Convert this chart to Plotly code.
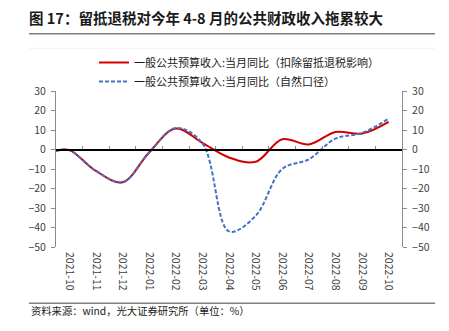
import plotly.graph_objects as go

# ---------------- data ----------------
months = ["2021-10", "2021-11", "2021-12", "2022-01", "2022-02", "2022-03", "2022-04",
          "2022-05", "2022-06", "2022-07", "2022-08", "2022-09", "2022-10"]
# value where each line begins at the left edge of the plot
start_red = -0.7
start_blue = -0.7
# monthly YoY (%)
red_vals = [-0.3, -11.0, -16.8, -1.5, 10.8, 3.4, -4.1, -6.3, 5.3, 2.6, 9.0, 8.2, 14.2]
blue_vals = [-0.3, -11.0, -16.8, -1.5, 11.0, 3.2, -42.0, -34.0, -10.0, -5.0, 5.6, 8.5, 15.8]
y_ticks = [30, 20, 10, 0, -10, -20, -30, -40, -50]

name_red = "一般公共预算收入:当月同比（扣除留抵退税影响）"
name_blue = "一般公共预算收入:当月同比（自然口径）"
title_text = "图 17：留抵退税对今年 4-8 月的公共财政收入拖累较大"
footer_text = "资料来源：wind，光大证券研究所（单位：%）"

# ---------------- layout geometry ----------------
W, H = 449, 331
L, R, T, B = 56, 402, 91, 247
x_range = [-0.5, len(months) - 0.5]
y_range = [min(y_ticks), max(y_ticks)]

def px_x(px):
    return (px - L) / (R - L)

def px_y(py):
    return (B - py) / (B - T)

FONT = "Noto Sans CJK SC"
pos = list(range(len(months)))
xs = [x_range[0]] + pos
red_y = [start_red] + red_vals
blue_y = [start_blue] + blue_vals

fig = go.Figure()
fig.add_trace(go.Scatter(x=xs, y=red_y, mode="lines", name=name_red,
                         line=dict(color="#D40000", width=2, shape="spline", smoothing=1.0),
                         hoverinfo="skip"))
fig.add_trace(go.Scatter(x=xs, y=blue_y, mode="lines", name=name_blue,
                         line=dict(color="#4472C4", width=2, dash="4px,2px",
                                   shape="spline", smoothing=1.0),
                         hoverinfo="skip"))
# invisible trace to carry the secondary axes (right y labels, zero line with ticks)
fig.add_trace(go.Scatter(x=xs, y=red_y, mode="lines", xaxis="x2", yaxis="y2",
                         opacity=0, showlegend=False, hoverinfo="skip",
                         line=dict(width=0)))

axis_font = dict(family=FONT, size=10.5, color="#404040")
yaxis_common = dict(range=y_range, tickmode="array", tickvals=y_ticks,
                    showgrid=False, zeroline=False, showline=True,
                    linecolor="#8C8C8C", linewidth=1, ticks="outside",
                    ticklen=4, tickcolor="#8C8C8C", tickfont=axis_font, ticklabelstandoff=3)

zero_frac = (0 - y_range[0]) / (y_range[1] - y_range[0])

fig.update_layout(
    width=W, height=H,
    margin=dict(l=L, r=W - R, t=T, b=H - B, pad=0),
    paper_bgcolor="white", plot_bgcolor="white",
    font=dict(family=FONT, color="#1A1A1A"),
    title=dict(text="<b>" + title_text + "</b>", x=29 / W, xanchor="left", xref="container",
               y=1 - 19 / H, yanchor="middle", yref="container",
               font=dict(family=FONT, size=14.5, color="#1A1A1A")),
    xaxis=dict(range=x_range, tickmode="array", tickvals=pos, ticktext=months,
               tickangle=90, showgrid=False, zeroline=False, showline=False,
               ticks="", tickfont=axis_font, ticklabelstandoff=4),
    xaxis2=dict(range=x_range, overlaying="x", anchor="free", position=zero_frac,
                tickmode="array", tickvals=[p + 0.5 for p in pos[:-1]],
                showticklabels=False, showgrid=False, zeroline=False,
                showline=True, linecolor="#000000", linewidth=1.5,
                ticks="inside", ticklen=3, tickcolor="#8C8C8C"),
    yaxis=dict(**yaxis_common, side="left"),
    yaxis2=dict(**yaxis_common, side="right", overlaying="y", anchor="x"),
    legend=dict(x=px_x(94), y=px_y(48), xanchor="left", yanchor="top",
                xref="paper", yref="paper", orientation="v",
                font=dict(family=FONT, size=11, color="#1A1A1A"),
                bgcolor="rgba(0,0,0,0)", itemwidth=30, tracegroupgap=0),
    showlegend=True,
)

# title underline, faint chart frame line, footer line
fig.add_shape(type="line", xref="paper", yref="paper",
              x0=px_x(29), x1=px_x(435), y0=px_y(33.7), y1=px_y(33.7),
              line=dict(color="#7F7F7F", width=1.5))
fig.add_shape(type="line", xref="paper", yref="paper",
              x0=px_x(29), x1=px_x(435), y0=px_y(48.3), y1=px_y(48.3),
              line=dict(color="#F0F0F0", width=1))
fig.add_shape(type="line", xref="paper", yref="paper",
              x0=px_x(29), x1=px_x(435), y0=px_y(303.3), y1=px_y(303.3),
              line=dict(color="#7F7F7F", width=1.5))
fig.add_annotation(text=footer_text, xref="paper", yref="paper",
                   x=px_x(29), y=px_y(310), xanchor="left", yanchor="middle",
                   showarrow=False, font=dict(family=FONT, size=10.3, color="#1A1A1A"))

fig.write_html("out.html")
